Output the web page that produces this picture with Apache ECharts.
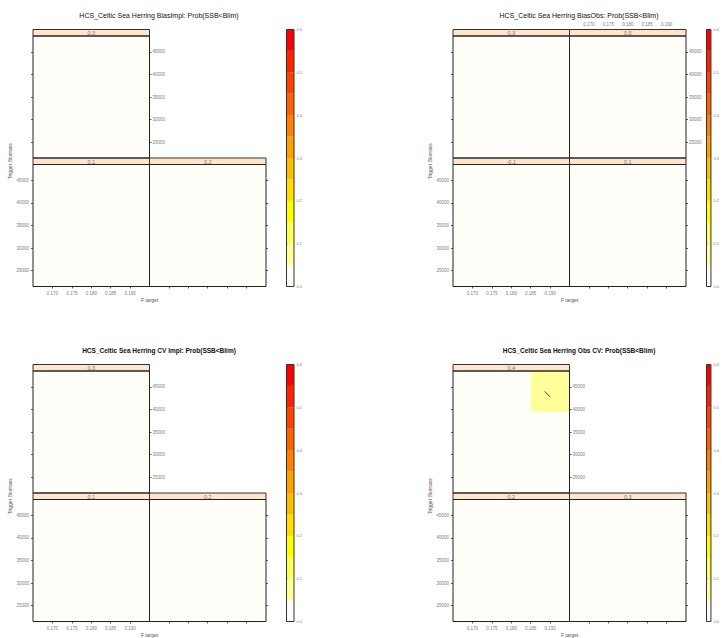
<!DOCTYPE html>
<html><head><meta charset="utf-8">
<script src="https://cdn.jsdelivr.net/npm/echarts@6/dist/echarts.min.js"></script>
<style>html,body{margin:0;padding:0;background:#fff}#c{width:722px;height:638px}</style>
</head><body><div id="c"></div>
<script>
// ---------------- DATA ----------------
const TITLES = [
  'HCS_Celtic Sea Herring BiasImpl: Prob(SSB<Blim)',
  'HCS_Celtic Sea Herring BiasObs: Prob(SSB<Blim)',
  'HCS_Celtic Sea Herring CV Impl: Prob(SSB<Blim)',
  'HCS_Celtic Sea Herring Obs CV: Prob(SSB<Blim)'
];
const X_NAME = 'F target';
const Y_NAME = 'Trigger Biomass';
const STRIPS_BIAS_IMPL = ['0.1', '0.2', '0.3'];
const STRIPS_BIAS_OBS = ['-0.1', '0.1', '0.3', '0.5'];
const STRIPS_CV_IMPL = ['0.1', '0.2', '0.3'];
const STRIPS_OBS_CV = ['0.2', '0.3', '0.4'];
const F_GRID = [0.17, 0.18, 0.19];          // F target grid points
const B_GRID = [26000, 35000, 44000];       // trigger biomass grid points
const X_TICKS = [0.170, 0.175, 0.180, 0.185, 0.190];
const Y_TICKS = [25000, 30000, 35000, 40000, 45000];
const CBAR_TICKS = [0.0, 0.1, 0.2, 0.3, 0.4, 0.5, 0.6];
const BREAKS = [0, 0.05, 0.1, 0.15, 0.2, 0.25, 0.3, 0.35, 0.4, 0.45, 0.5, 0.55, 0.6];
const COLORS = ['#FFFEF8', '#FFFF99', '#FFFF55', '#FFFF00', '#FFDF00', '#FFBF00',
                '#FF9F00', '#FF8000', '#FF6000', '#FF4000', '#FF2000', '#FF0000'];
// Prob(SSB<Blim): one 3x3 table per panel, rows = B_GRID (low->high), cols = F_GRID
const PROB_BIAS_IMPL = [
  [[0, 0, 0], [0, 0, 0], [0, 0, 0]],
  [[0, 0, 0], [0, 0, 0], [0, 0, 0]],
  [[0, 0, 0], [0, 0, 0], [0, 0, 0]]
];
const PROB_BIAS_OBS = [
  [[0, 0, 0], [0, 0, 0], [0, 0, 0]],
  [[0, 0, 0], [0, 0, 0], [0, 0, 0]],
  [[0, 0, 0], [0, 0, 0], [0, 0, 0]],
  [[0, 0, 0], [0, 0, 0], [0, 0, 0]]
];
const PROB_CV_IMPL = [
  [[0, 0, 0], [0, 0, 0], [0, 0, 0]],
  [[0, 0, 0], [0, 0, 0], [0, 0, 0]],
  [[0, 0, 0], [0, 0, 0], [0, 0, 0]]
];
const PROB_OBS_CV = [
  [[0, 0, 0], [0, 0, 0], [0, 0, 0]],
  [[0, 0, 0], [0, 0, 0], [0, 0, 0]],
  [[0, 0, 0], [0, 0, 0], [0, 0, 0.058]]
];

// ---------------- LAYOUT ----------------
const FONT = '"Liberation Sans", Arial, sans-serif';
const ORIGINS = [[0, 0], [420, 0], [0, 335], [420, 335]];
const PL = 33, PW = 116.5, PH = 122, SH = 6.5, TOP0 = 29.5;
const CB_L = 286.5, CB_W = 7.5, CB_T = 29.5, CB_H = 257;
const DX = F_GRID[1] - F_GRID[0], DY = B_GRID[1] - B_GRID[0];
const XMIN = F_GRID[0] - DX / 2, XMAX = F_GRID[F_GRID.length - 1] + DX / 2;
const YMIN = B_GRID[0] - DY / 2, YMAX = B_GRID[B_GRID.length - 1] + DY / 2;
const TICK_COLOR = '#333', LABEL_COLOR = '#808080';

const CHARTS = [
  { title: TITLES[0], strips: STRIPS_BIAS_IMPL, probs: PROB_BIAS_IMPL, bold: false },
  { title: TITLES[1], strips: STRIPS_BIAS_OBS, probs: PROB_BIAS_OBS, bold: false },
  { title: TITLES[2], strips: STRIPS_CV_IMPL, probs: PROB_CV_IMPL, bold: true },
  { title: TITLES[3], strips: STRIPS_OBS_CV, probs: PROB_OBS_CV, bold: true }
];

function colorFor(v) {
  for (let i = 0; i < BREAKS.length - 1; i++) if (v < BREAKS[i + 1]) return COLORS[i];
  return COLORS[COLORS.length - 1];
}

// marching squares contour segments at given level
function contourSegs(z, level) {
  const segs = [];
  for (let r = 0; r < B_GRID.length - 1; r++) {
    for (let c = 0; c < F_GRID.length - 1; c++) {
      const pts = [];
      const corners = [[c, r], [c + 1, r], [c + 1, r + 1], [c, r + 1]];
      for (let k = 0; k < 4; k++) {
        const a = corners[k], b = corners[(k + 1) % 4];
        const za = z[a[1]][a[0]], zb = z[b[1]][b[0]];
        if ((za - level) * (zb - level) < 0) {
          const t = (level - za) / (zb - za);
          const xa = F_GRID[a[0]], ya = B_GRID[a[1]], xb = F_GRID[b[0]], yb = B_GRID[b[1]];
          pts.push([xa + t * (xb - xa), ya + t * (yb - ya)]);
        }
      }
      for (let k = 0; k + 1 < pts.length; k += 2) segs.push([pts[k][0], pts[k][1], pts[k + 1][0], pts[k + 1][1]]);
    }
  }
  return segs;
}

const grids = [], xAxes = [], yAxes = [], series = [], graphics = [];

function tickCfg(show) {
  return { show: show, inside: false, length: 2, lineStyle: { color: TICK_COLOR, width: 0.8 } };
}
function valueX(gi, pos, showTick, showLabel, margin) {
  return {
    type: 'value', gridIndex: gi, position: pos, min: XMIN, max: XMAX,
    axisLine: { show: false }, splitLine: { show: false },
    axisTick: Object.assign(tickCfg(showTick), { customValues: X_TICKS }),
    axisLabel: { show: showLabel, customValues: X_TICKS, formatter: v => v.toFixed(3),
      fontSize: 4.5, color: LABEL_COLOR, fontFamily: FONT, margin: margin }
  };
}
function valueY(gi, pos, showTick, showLabel, margin) {
  return {
    type: 'value', gridIndex: gi, position: pos, min: YMIN, max: YMAX,
    axisLine: { show: false }, splitLine: { show: false },
    axisTick: Object.assign(tickCfg(showTick), { customValues: Y_TICKS }),
    axisLabel: { show: showLabel, customValues: Y_TICKS, formatter: v => String(v),
      fontSize: 4.5, color: LABEL_COLOR, fontFamily: FONT, margin: margin }
  };
}

CHARTS.forEach((ch, ci) => {
  const [ox, oy] = ORIGINS[ci];
  const n = ch.strips.length;
  // title
  graphics.push({ type: 'text', x: ox + 159, y: oy + 15, z: 10,
    style: { text: ch.title, align: 'center', verticalAlign: 'middle', fontSize: ch.bold ? 6.5 : 7,
      fontWeight: ch.bold ? 'bold' : 'normal', fill: '#111', fontFamily: FONT } });
  // axis names
  graphics.push({ type: 'text', x: ox + PL + PW, y: oy + 300, z: 10,
    style: { text: X_NAME, align: 'center', verticalAlign: 'middle', fontSize: 5, fill: '#555', fontFamily: FONT } });
  graphics.push({ type: 'text', x: ox + 10, y: oy + TOP0 + SH + PH + SH / 2, rotation: Math.PI / 2, z: 10,
    style: { text: Y_NAME, align: 'center', verticalAlign: 'middle', fontSize: 5, fill: '#555', fontFamily: FONT } });

  for (let i = 0; i < n; i++) {
    const col = i % 2, row = Math.floor(i / 2);
    const left = ox + PL + col * PW;
    const stripTop = oy + (row === 1 ? TOP0 : TOP0 + SH + PH);
    const top = stripTop + SH;
    const rightmostTop = row === 1 && (col === 1 || n === 3);

    // panel grid
    const gi = grids.length;
    grids.push({ left: left, top: top, width: PW, height: PH, show: true, z: 5,
      backgroundColor: 'transparent', borderColor: '#222', borderWidth: 1, containLabel: false });
    const xi = xAxes.length;
    xAxes.push(valueX(gi, 'bottom', row === 0, row === 0 && col === 0, 4));
    const yi = yAxes.length;
    yAxes.push(valueY(gi, 'left', col === 0, col === 0 && row === 0, 4));
    yAxes.push(valueY(gi, 'right', col === 1 || rightmostTop, rightmostTop, 3));

    // cells
    const z = ch.probs[i];
    const cells = [];
    for (let r = 0; r < B_GRID.length; r++)
      for (let c = 0; c < F_GRID.length; c++) cells.push([F_GRID[c], B_GRID[r], z[r][c]]);
    series.push({
      type: 'custom', xAxisIndex: xi, yAxisIndex: yi, data: cells, clip: true, silent: true, z: 1,
      renderItem: function (params, api) {
        const x = api.value(0), y = api.value(1), v = api.value(2);
        const p0 = api.coord([x - DX / 2, y - DY / 2]);
        const p1 = api.coord([x + DX / 2, y + DY / 2]);
        return { type: 'rect', shape: { x: Math.min(p0[0], p1[0]), y: Math.min(p0[1], p1[1]),
          width: Math.abs(p1[0] - p0[0]), height: Math.abs(p1[1] - p0[1]) },
          style: { fill: colorFor(v) } };
      }
    });
    // contours
    let segs = [];
    for (let k = 1; k < BREAKS.length - 1; k++) segs = segs.concat(contourSegs(z, BREAKS[k]));
    if (segs.length) {
      series.push({
        type: 'custom', xAxisIndex: xi, yAxisIndex: yi, data: segs, clip: true, silent: true, z: 3,
        renderItem: function (params, api) {
          const a = api.coord([api.value(0), api.value(1)]);
          const b = api.coord([api.value(2), api.value(3)]);
          return { type: 'line', shape: { x1: a[0], y1: a[1], x2: b[0], y2: b[1] },
            style: { stroke: '#333', lineWidth: 0.9 } };
        }
      });
    }

    // strip grid
    const sgi = grids.length;
    grids.push({ left: left, top: stripTop, width: PW, height: SH, show: true, z: 4,
      backgroundColor: '#FFE5CC', borderColor: '#333', borderWidth: 1 });
    xAxes.push(Object.assign(valueX(sgi, 'top', row === 1, row === 1 && col === 1, 3)));
    yAxes.push({ type: 'value', gridIndex: sgi, min: 0, max: 1, show: false });
    graphics.push({ type: 'text', x: left + PW / 2, y: stripTop + SH / 2 + 0.3, z: 10,
      style: { text: ch.strips[i], align: 'center', verticalAlign: 'middle', fontSize: 5.5,
        fill: '#777', fontFamily: FONT } });
  }

  // colorbar
  const cgi = grids.length;
  grids.push({ left: ox + CB_L, top: oy + CB_T, width: CB_W, height: CB_H, show: true, z: 5,
    backgroundColor: 'transparent', borderColor: '#333', borderWidth: 1 });
  const cxi = xAxes.length;
  xAxes.push({ type: 'value', gridIndex: cgi, min: 0, max: 1, show: false });
  const cyi = yAxes.length;
  yAxes.push({ type: 'value', gridIndex: cgi, position: 'right', min: BREAKS[0], max: BREAKS[BREAKS.length - 1],
    axisLine: { show: false }, splitLine: { show: false },
    axisTick: Object.assign(tickCfg(true), { customValues: CBAR_TICKS }),
    axisLabel: { customValues: CBAR_TICKS, formatter: v => v.toFixed(1), fontSize: 4, color: LABEL_COLOR,
      fontFamily: FONT, margin: 2.5 } });
  const bands = [];
  for (let k = 0; k < BREAKS.length - 1; k++) bands.push([BREAKS[k], BREAKS[k + 1], k]);
  series.push({
    type: 'custom', xAxisIndex: cxi, yAxisIndex: cyi, data: bands, silent: true, z: 1,
    renderItem: function (params, api) {
      const p0 = api.coord([0, api.value(0)]);
      const p1 = api.coord([1, api.value(1)]);
      return { type: 'rect', shape: { x: p0[0], y: p1[1], width: p1[0] - p0[0], height: p0[1] - p1[1] },
        style: { fill: COLORS[api.value(2)] } };
    }
  });
});

const chart = echarts.init(document.getElementById('c'), null, { renderer: 'svg', width: 722, height: 638 });
chart.setOption({
  backgroundColor: '#ffffff',
  animation: false,
  textStyle: { fontFamily: FONT },
  grid: grids, xAxis: xAxes, yAxis: yAxes, series: series, graphic: graphics
});
</script>
</body></html>
